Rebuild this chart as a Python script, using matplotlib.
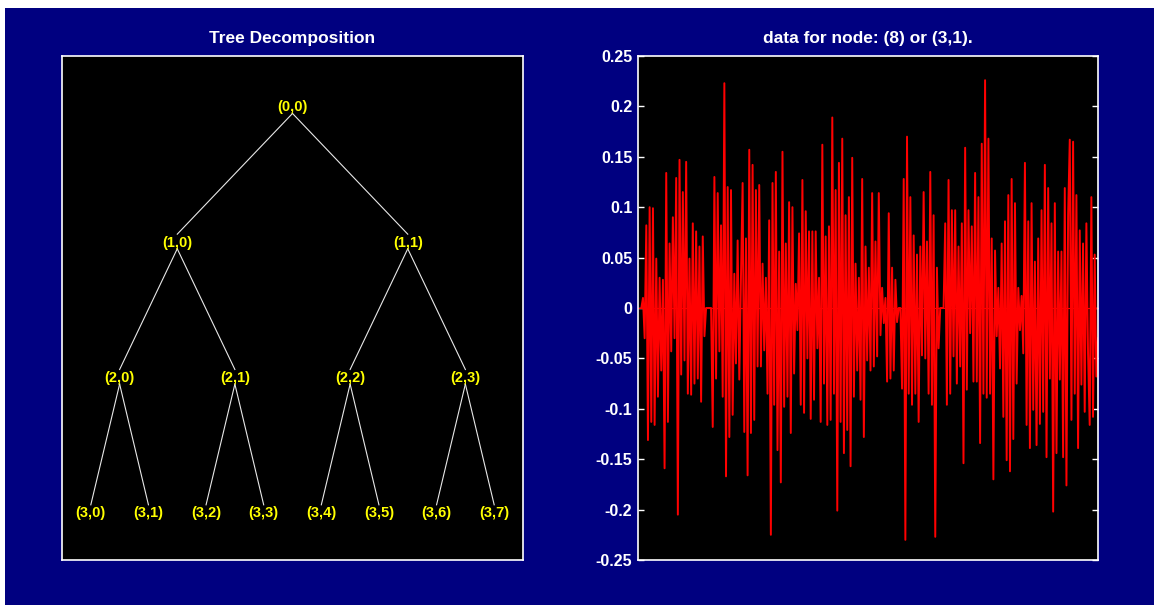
import matplotlib
matplotlib.use('Agg')
import matplotlib.pyplot as plt
from matplotlib.patches import Rectangle
import numpy as np

plt.rcParams['font.family'] = ['Liberation Sans', 'DejaVu Sans']

navy = '#000080'

# tree structure: depth levels of the packet tree
levels = [0, 1, 2, 3]
tree_title = 'Tree Decomposition'

# node (3,1) coefficients
coefs = [
    0.0, 0.01, -0.03, 0.082, -0.131, 0.100,
    -0.113, 0.099, -0.116, 0.049, -0.088, 0.03,
    -0.062, 0.028, -0.159, 0.134, -0.113, 0.064,
    -0.043, 0.090, -0.03, 0.129, -0.205, 0.147,
    -0.066, 0.115, -0.052, 0.145, -0.085, 0.049,
    -0.086, 0.084, -0.075, 0.076, -0.07, 0.061,
    -0.093, 0.071, -0.028, 0.0, 0.0, 0.0,
    0.0, -0.118, 0.130, -0.070, 0.114, -0.043,
    0.082, -0.088, 0.223, -0.167, 0.120, -0.128,
    0.117, -0.106, 0.034, -0.055, 0.067, -0.071,
    0.03, 0.124, -0.123, 0.069, -0.166, 0.157,
    -0.124, 0.142, -0.111, 0.117, -0.058, 0.122,
    -0.058, 0.044, -0.042, 0.03, -0.085, 0.087,
    -0.225, 0.124, -0.096, 0.135, -0.141, 0.056,
    -0.173, 0.155, -0.098, 0.064, -0.088, 0.105,
    -0.124, 0.100, -0.065, 0.024, -0.022, 0.074,
    -0.096, 0.127, -0.104, 0.096, -0.05, 0.076,
    -0.110, 0.076, -0.091, 0.076, -0.04, 0.03,
    -0.113, 0.162, -0.075, 0.071, -0.116, 0.081,
    -0.111, 0.189, -0.085, 0.117, -0.201, 0.144,
    -0.113, 0.168, -0.144, 0.092, -0.121, 0.110,
    -0.157, 0.149, -0.088, 0.044, -0.062, 0.03,
    -0.091, 0.128, -0.128, 0.061, -0.052, 0.04,
    -0.062, 0.114, -0.058, 0.066, -0.048, 0.114,
    -0.027, 0.02, -0.015, 0.01, -0.073, 0.094,
    -0.070, 0.040, -0.062, 0.028, -0.014, 0.0,
    0.0, -0.080, 0.128, -0.230, 0.170, -0.085,
    0.110, -0.096, 0.072, -0.085, 0.053, -0.113,
    0.061, -0.047, 0.115, -0.05, 0.066, -0.085,
    0.135, -0.096, 0.092, -0.227, 0.04, -0.04,
    0.0, 0.0, 0.0, 0.084, -0.096, 0.127,
    -0.085, 0.097, -0.048, 0.097, -0.075, 0.061,
    -0.058, 0.084, -0.154, 0.159, -0.081, 0.097,
    -0.025, 0.081, -0.073, 0.134, -0.073, 0.110,
    -0.134, 0.163, -0.085, 0.226, -0.089, 0.168,
    -0.085, 0.069, -0.170, 0.057, -0.028, 0.02,
    -0.060, 0.064, -0.108, 0.086, -0.151, 0.112,
    -0.162, 0.128, -0.130, 0.104, -0.075, 0.02,
    -0.022, 0.012, -0.045, 0.144, -0.116, 0.086,
    -0.139, 0.104, -0.101, 0.046, -0.136, 0.069,
    -0.115, 0.097, -0.103, 0.142, -0.148, 0.119,
    -0.070, 0.084, -0.202, 0.104, -0.144, 0.056,
    -0.071, 0.056, -0.148, 0.119, -0.176, 0.092,
    0.167, -0.111, 0.165, -0.085, 0.112, -0.139,
    0.077, -0.076, 0.064, -0.103, 0.084, -0.045,
    -0.116, 0.110, -0.108, 0.053, -0.068, -0.03,
]
data_title = 'data for node: (8) or (3,1).'
yticks = [-0.25, -0.2, -0.15, -0.1, -0.05, 0, 0.05, 0.1, 0.15, 0.2, 0.25]
yticklabels = ['-0.25', '-0.2', '-0.15', '-0.1', '-0.05', '0',
               '0.05', '0.1', '0.15', '0.2', '0.25']

fig = plt.figure(figsize=(11.54, 6.05), dpi=100, facecolor='white')
fig.patches.append(Rectangle((5 / 1154, 0), 1, 1 - 8 / 605, transform=fig.transFigure,
                             facecolor=navy, edgecolor='none', zorder=-10))

# ---- left: tree ----
ax1 = fig.add_axes([62 / 1154, 45 / 605, 461 / 1154, 504 / 605])
ax1.set_facecolor('black')
ax1.set_xlim(0, 1)
ax1.set_ylim(0, 1)
ax1.set_xticks([])
ax1.set_yticks([])
for s in ax1.spines.values():
    s.set_color('white')
    s.set_linewidth(1.2)

y_top = 0.898
y_step = 0.2685
above = 0.017
below = 0.012
for d in levels:
    n = 2 ** d
    yc = y_top - y_step * d
    for k in range(n):
        xc = (2 * k + 1) / (2 * n)
        ax1.text(xc, yc, f'({d},{k})', color='yellow', fontsize=10.5,
                 fontweight='bold', ha='center', va='center')
        if d < levels[-1]:
            for c in (2 * k, 2 * k + 1):
                xch = (2 * c + 1) / (4 * n)
                ych = y_top - y_step * (d + 1)
                ax1.plot([xc, xch], [yc - below, ych + above], color='#e8e8e8', lw=0.8)
ax1.set_title(tree_title, color='white', fontweight='bold', fontsize=12.5, pad=9)

# ---- right: coefficients ----
ax2 = fig.add_axes([638 / 1154, 45 / 605, 460 / 1154, 504 / 605])
ax2.set_facecolor('black')
x = np.arange(len(coefs))
ax2.axhline(0, color='red', lw=0.8)
ax2.plot(x, coefs, color='red', lw=1.4)
ax2.set_xlim(-2, len(coefs) - 1)
ax2.set_ylim(-0.25, 0.25)
ax2.set_xticks([])
ax2.set_yticks(yticks)
ax2.set_yticklabels(yticklabels)
ax2.tick_params(axis='y', direction='in', length=4, width=1, colors='white',
                left=True, right=True, labelsize=11.5, pad=4)
for lab in ax2.get_yticklabels():
    lab.set_fontweight('bold')
for s in ax2.spines.values():
    s.set_color('white')
    s.set_linewidth(1.2)
ax2.set_title(data_title, color='white', fontweight='bold', fontsize=12.5, pad=9)

fig.savefig('out.png', dpi=100, facecolor=fig.get_facecolor())
